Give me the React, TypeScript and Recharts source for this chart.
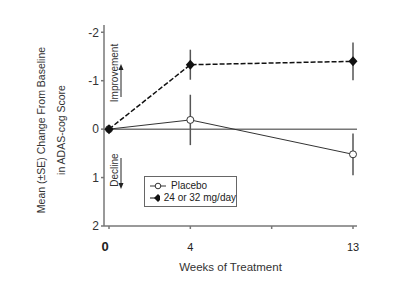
import { LineChart, Line, XAxis, YAxis, ReferenceLine, ErrorBar, Label } from 'recharts';

const weeks = ['0', '4', '', '13'];
const placebo = [0, -0.19, null, 0.52];
const placeboSE = [0, 0.52, null, 0.43];
const drug = [0, -1.33, null, -1.4];
const drugSE = [0, 0.31, null, 0.39];
const yTicks = [-2, -1, 0, 1, 2];

const data = weeks.map((w, i) => ({
  week: w,
  placebo: placebo[i],
  placeboSE: placeboSE[i],
  drug: drug[i],
  drugSE: drugSE[i],
}));

const font = 'Arial, "Liberation Sans", sans-serif';

const Diamond = (props: any) => {
  const { cx, cy } = props;
  if (cx == null || cy == null) return null;
  return <path d={`M${cx},${cy - 5}L${cx + 4.5},${cy}L${cx},${cy + 5}L${cx - 4.5},${cy}Z`} fill='#111' />;
};

const XTick = (props: any) => {
  const { x, y, payload } = props;
  const first = payload.value === '0';
  return (
    <text
      x={first ? x - 4 : x}
      y={y + 20}
      textAnchor='middle'
      fontFamily={font}
      fontSize={first ? 13 : 11}
      fontWeight={first ? 'bold' : 'normal'}
      fill='#222'
    >
      {payload.value}
    </text>
  );
};

const LegendBox = () => (
  <div
    style={{
      position: 'absolute',
      left: 144,
      top: 176,
      border: '1px solid #666',
      width: 93,
      height: 31,
      background: '#fff',
      fontFamily: font,
      fontSize: 10,
      color: '#222',
      boxSizing: 'border-box',
      padding: '3px 0 0 4px',
      lineHeight: '12px',
      whiteSpace: 'nowrap',
    }}
  >
    <div style={{ display: 'flex', alignItems: 'center' }}>
      <svg width={18} height={10}>
        <line x1={1} y1={5} x2={17} y2={5} stroke='#333' />
        <circle cx={9} cy={5} r={2.8} fill='#fff' stroke='#333' />
      </svg>
      <span style={{ marginLeft: 4 }}>Placebo</span>
    </div>
    <div style={{ display: 'flex', alignItems: 'center' }}>
      <svg width={18} height={10}>
        <line x1={1} y1={5} x2={17} y2={5} stroke='#111' />
        <path d='M9,1L13,5L9,9L5,5Z' fill='#111' />
      </svg>
      <span style={{ marginLeft: 4 }}>24 or 32 mg/day</span>
    </div>
  </div>
);

const YLabel = () => {
  const cy = 130;
  return (
    <g fontFamily={font} fontSize={10.5} fill='#333'>
      <text transform={`translate(45,${cy}) rotate(-90)`} textAnchor='middle'>
        Mean (±SE) Change From Baseline
      </text>
      <text transform={`translate(65,${cy}) rotate(-90)`} textAnchor='middle'>
        in ADAS-cog Score
      </text>
    </g>
  );
};

export default function App() {
  return (
    <div style={{ position: 'absolute', left: 0, top: 0, width: 400, height: 296, background: '#fff' }}>
      <LineChart width={400} height={296} data={data} margin={{ top: 25, right: 43, bottom: 30, left: 74 }}>
        <XAxis
          dataKey='week'
          padding={{ left: 5, right: 4 }}
          stroke='#777'
          strokeWidth={1.5}
          tickSize={3}
          tick={<XTick />}
          height={40}
        >
          <Label value='Weeks of Treatment' position='insideBottom' offset={-5} fontFamily={font} fontSize={11.5} fill='#333' />
        </XAxis>
        <YAxis
          type='number'
          domain={[-2.15, 2]}
          reversed
          ticks={yTicks}
          width={30}
          stroke='#777'
          strokeWidth={1.5}
          tickSize={3}
          tick={{ fontFamily: font, fontSize: 12, fill: '#333' }}
          label={<YLabel />}
        />
        <ReferenceLine y={0} stroke='#777' strokeWidth={1.5} />
        <Line
          dataKey='placebo'
          stroke='#333'
          strokeWidth={1}
          connectNulls
          dot={{ r: 3.5, fill: '#fff', stroke: '#333', strokeWidth: 1 }}
          isAnimationActive={false}
        >
          <ErrorBar dataKey='placeboSE' width={0} stroke='#555' strokeWidth={1.5} direction='y' />
        </Line>
        <Line
          dataKey='drug'
          stroke='#111'
          strokeWidth={1.5}
          strokeDasharray='5 2'
          connectNulls
          dot={<Diamond />}
          isAnimationActive={false}
        >
          <ErrorBar dataKey='drugSE' width={0} stroke='#555' strokeWidth={1.5} direction='y' />
        </Line>
      </LineChart>
      <LegendBox />
      <svg width={400} height={296} style={{ position: 'absolute', left: 0, top: 0, pointerEvents: 'none' }}>
        <g fontFamily={font} fontSize={10} fill='#333'>
          <text transform='translate(118,73) rotate(-90)' textAnchor='middle'>Improvement</text>
          <text transform='translate(118,170) rotate(-90)' textAnchor='middle'>Decline</text>
        </g>
        <line x1={121} y1={97} x2={121} y2={68} stroke='#222' />
        <path d='M118.5,70L121,64L123.5,70Z' fill='#222' />
        <line x1={121} y1={158} x2={121} y2={185} stroke='#222' />
        <path d='M118.5,183L121,189L123.5,183Z' fill='#222' />
      </svg>
    </div>
  );
}
